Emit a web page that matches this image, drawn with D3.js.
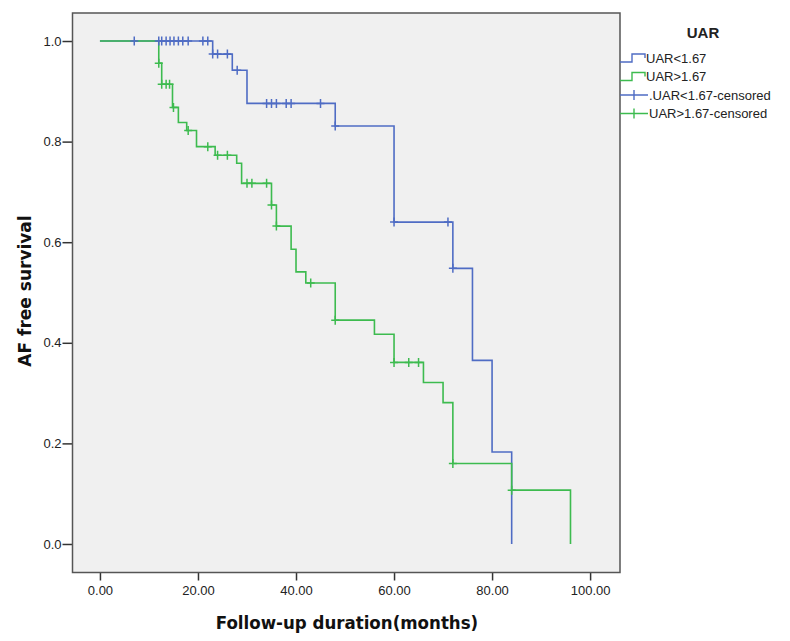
<!DOCTYPE html>
<html>
<head>
<meta charset="utf-8">
<script src="https://cdn.jsdelivr.net/npm/d3@7"></script>
<style>
  body { margin: 0; background: #fff; }
  svg { display: block; }
  .tick text { font-family: "Liberation Sans", Arial, sans-serif; font-size: 13px; fill: #222; }
</style>
</head>
<body>
<svg width="790" height="641"></svg>
<script>
// Kaplan-Meier steps
var lowTimes = [0, 23, 27, 30, 48, 60, 72, 76, 80, 84];
var lowSurv = [1.0, 0.974, 0.942, 0.876, 0.831, 0.64, 0.548, 0.365, 0.183, 0];
var lowCensored = [7, 12, 12.6, 13.5, 14.3, 15.1, 16, 16.9, 18, 21, 22, 23, 24, 26, 28, 34, 35, 36, 38, 39, 45, 48, 60, 71, 72];

var highTimes = [0, 12, 12.6, 14.8, 16, 17.7, 19.7, 23.5, 27.9, 28.9, 35, 36, 39, 40, 42, 48, 56, 60, 66, 70, 72, 84, 96];
var highSurv = [1.0, 0.956, 0.914, 0.868, 0.838, 0.822, 0.79, 0.773, 0.757, 0.717, 0.674, 0.632, 0.586, 0.541, 0.519, 0.445, 0.417, 0.361, 0.321, 0.281, 0.16, 0.107, 0];
var highCensored = [12, 12.6, 13.5, 14.2, 15, 18, 22, 24, 26, 30, 31, 34, 35, 36, 43, 48, 60, 63, 65, 72, 84];

var xTicks = [0, 20, 40, 60, 80, 100];
var yTicks = [0, 0.2, 0.4, 0.6, 0.8, 1.0];

var groups = [
    {name: "UAR<1.67", times: lowTimes, surv: lowSurv, censored: lowCensored, color: "#4f6cc4"},
    {name: "UAR>1.67", times: highTimes, surv: highSurv, censored: highCensored, color: "#3dbb4f"}
];

var svg = d3.select("svg"),
    margin = {top: 13, left: 72.5},
    width = 547.5,
    height = 559.5;

var x = d3.scaleLinear().domain([-5.6, 106.1]).range([0, width]),
    y = d3.scaleLinear().domain([-0.0567, 1.0557]).range([height, 0]);

var g = svg.append("g")
    .attr("transform", "translate(" + margin.left + "," + margin.top + ")");

g.append("rect")
    .attr("width", width)
    .attr("height", height)
    .attr("fill", "#f0f0f0");

function survAt(grp, t) {
    var i = d3.bisectRight(grp.times, t) - 1;
    return grp.surv[Math.max(0, i)];
}

var line = d3.line()
    .x(function (d) { return x(d[0]); })
    .y(function (d) { return y(d[1]); })
    .curve(d3.curveStepAfter);

groups.forEach(function (grp) {
    var pts = grp.times.map(function (t, i) { return [t, grp.surv[i]]; });
    g.append("path")
        .attr("d", line(pts))
        .attr("fill", "none")
        .attr("stroke", grp.color)
        .attr("stroke-width", 1.6);
});

groups.forEach(function (grp) {
    g.selectAll(null)
        .data(grp.censored)
        .enter().append("path")
        .attr("transform", function (t) { return "translate(" + x(t) + "," + y(survAt(grp, t)) + ")"; })
        .attr("d", "M-4,0H4M0,-4.5V4.5")
        .attr("stroke", grp.color)
        .attr("stroke-width", 1.5);
});

g.append("g")
    .attr("transform", "translate(0," + height + ")")
    .call(d3.axisBottom(x).tickValues(xTicks).tickSize(8).tickSizeOuter(0).tickFormat(d3.format(".2f")))
    .call(function (a) {
        a.select(".domain").remove();
        a.selectAll(".tick line").attr("stroke", "#333").attr("stroke-width", 1.5);
        a.selectAll(".tick text").attr("dy", "0.9em");
    });

g.append("g")
    .call(d3.axisLeft(y).tickValues(yTicks).tickSize(10).tickSizeOuter(0).tickFormat(d3.format(".1f")))
    .call(function (a) {
        a.select(".domain").remove();
        a.selectAll(".tick line").attr("stroke", "#333").attr("stroke-width", 1.5);
        a.selectAll(".tick text").attr("x", -11);
    });

g.append("rect")
    .attr("width", width)
    .attr("height", height)
    .attr("fill", "none")
    .attr("stroke", "#555")
    .attr("stroke-width", 1.5);

svg.append("text")
    .attr("x", 347)
    .attr("y", 629)
    .attr("text-anchor", "middle")
    .style("font-family", "'DejaVu Sans Condensed', 'DejaVu Sans', sans-serif")
    .style("font-weight", "bold")
    .style("font-size", "18.5px")
    .attr("fill", "#111")
    .text("Follow-up duration(months)");

svg.append("text")
    .attr("transform", "translate(31,291) rotate(-90)")
    .attr("text-anchor", "middle")
    .style("font-family", "'DejaVu Sans', sans-serif")
    .style("font-weight", "bold")
    .style("font-size", "17px")
    .attr("fill", "#111")
    .text("AF free survival");

// legend
var legend = svg.append("g").attr("transform", "translate(620,0)");
legend.append("text")
    .attr("x", 83)
    .attr("y", 38)
    .attr("text-anchor", "middle")
    .style("font-family", "'Liberation Sans', Arial, sans-serif")
    .style("font-weight", "bold")
    .style("font-size", "15px")
    .attr("fill", "#222")
    .text("UAR");

var items = [
    {label: "UAR<1.67", color: groups[0].color, kind: "step"},
    {label: "UAR>1.67", color: groups[1].color, kind: "step"},
    {label: ".UAR<1.67-censored", color: groups[0].color, kind: "cens"},
    {label: "UAR>1.67-censored", color: groups[1].color, kind: "cens"}
];

var row = legend.selectAll(".item")
    .data(items)
    .enter().append("g")
    .attr("class", "item")
    .attr("transform", function (d, i) { return "translate(0," + (58 + i * 18.5) + ")"; });

row.append("path")
    .attr("d", function (d) {
        return d.kind === "step" ? "M0,4H12V-4H25V0" : "M0,0H28M14,-5V5";
    })
    .attr("fill", "none")
    .attr("stroke", function (d) { return d.color; })
    .attr("stroke-width", 1.4);

row.append("text")
    .attr("x", function (d) { return d.kind === "step" ? 26 : 29; })
    .attr("y", 4.5)
    .style("font-family", "'Liberation Sans', Arial, sans-serif")
    .style("font-size", "13px")
    .attr("fill", "#222")
    .text(function (d) { return d.label; });
</script>
</body>
</html>
